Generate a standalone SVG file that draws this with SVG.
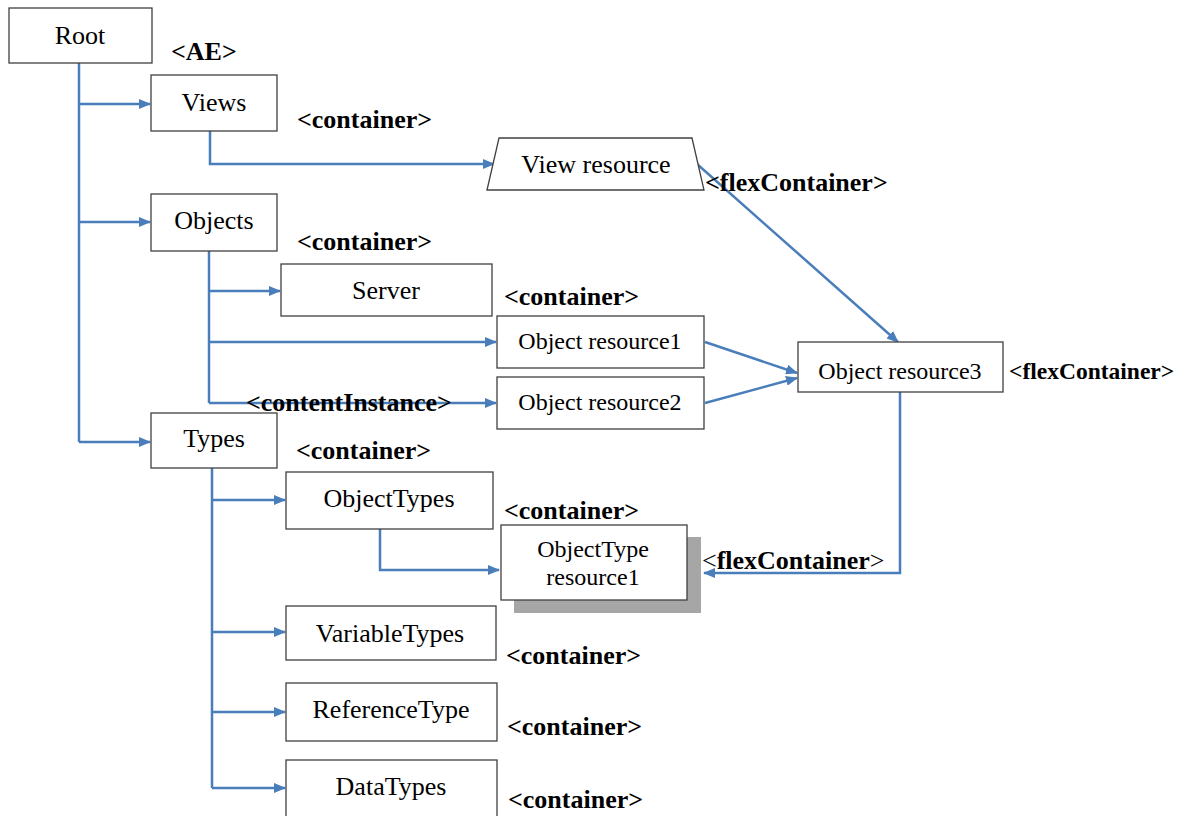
<svg xmlns="http://www.w3.org/2000/svg" width="1189" height="816" viewBox="0 0 1189 816">
<style>
.box{fill:#fff;stroke:#404040;stroke-width:1.3}
.t{font-family:"Liberation Serif","Times New Roman",serif;font-size:26px;fill:#000;text-anchor:middle}
.s{font-size:24px}
.lb{font-family:"Liberation Serif","Times New Roman",serif;font-size:26px;font-weight:bold;fill:#000}
.lb.sm{font-size:23.5px}
.c{fill:none;stroke:#4a7ebb;stroke-width:2.5}
</style>
<defs>
<marker id="ah" markerUnits="userSpaceOnUse" markerWidth="12" markerHeight="10" refX="11" refY="5" orient="auto">
<path d="M0,0 L12,5 L0,10 Z" fill="#4a7ebb"/>
</marker>
</defs>
<g id="connectors">
<path class="c" d="M79,63 V442"/>
<path class="c" d="M79,104 H150" marker-end="url(#ah)"/>
<path class="c" d="M79,222 H150" marker-end="url(#ah)"/>
<path class="c" d="M79,442 H150" marker-end="url(#ah)"/>
<path class="c" d="M210,131 V164 H494" marker-end="url(#ah)"/>
<path class="c" d="M209,251 V403"/>
<path class="c" d="M209,291 H280" marker-end="url(#ah)"/>
<path class="c" d="M209,342 H496" marker-end="url(#ah)"/>
<path class="c" d="M209,403 H496" marker-end="url(#ah)"/>
<path class="c" d="M697,164 L898,342" marker-end="url(#ah)"/>
<path class="c" d="M705,342 L797,373" marker-end="url(#ah)"/>
<path class="c" d="M705,403 L797,378" marker-end="url(#ah)"/>
<path class="c" d="M900,392 V573 H704" marker-end="url(#ah)"/>
<path class="c" d="M212,468 V788"/>
<path class="c" d="M212,500 H285" marker-end="url(#ah)"/>
<path class="c" d="M380,529 V570 H499" marker-end="url(#ah)"/>
<path class="c" d="M212,632 H285" marker-end="url(#ah)"/>
<path class="c" d="M212,712 H285" marker-end="url(#ah)"/>
<path class="c" d="M212,788 H285" marker-end="url(#ah)"/>
</g>
<g id="root"><rect class="box" x="9" y="8" width="143" height="55"/><text class="t" x="80" y="44">Root</text></g>
<text class="lb" x="171" y="60">&lt;AE&gt;</text>
<g id="views"><rect class="box" x="151" y="75" width="126" height="56"/><text class="t" x="214" y="111">Views</text></g>
<text class="lb" x="297" y="128">&lt;container&gt;</text>
<g id="viewresource"><path class="box" d="M499,138 H692 L704,190 H487 Z"/><text class="t" x="596" y="173">View resource</text></g>
<text class="lb" x="705" y="191">&lt;flexContainer&gt;</text>
<g id="objects"><rect class="box" x="151" y="194" width="126" height="57"/><text class="t" x="214" y="229">Objects</text></g>
<text class="lb" x="297" y="250">&lt;container&gt;</text>
<g id="server"><rect class="box" x="281" y="264" width="211" height="52"/><text class="t" x="386" y="299">Server</text></g>
<text class="lb" x="504" y="305">&lt;container&gt;</text>
<g id="objres1"><rect class="box" x="497" y="316" width="207" height="52"/><text class="t s" x="600" y="349">Object resource1</text></g>
<g id="objres2"><rect class="box" x="497" y="377" width="207" height="52"/><text class="t s" x="600" y="410">Object resource2</text></g>
<text class="lb" x="246" y="411">&lt;contentInstance&gt;</text>
<g id="objres3"><rect class="box" x="798" y="342" width="205" height="50"/><text class="t s" x="900" y="379">Object resource3</text></g>
<text class="lb sm" x="1009" y="379">&lt;flexContainer&gt;</text>
<g id="types"><rect class="box" x="151" y="413" width="126" height="55"/><text class="t" x="214" y="447">Types</text></g>
<text class="lb" x="296" y="459">&lt;container&gt;</text>
<g id="objecttypes"><rect class="box" x="286" y="472" width="207" height="57"/><text class="t" x="389" y="507">ObjectTypes</text></g>
<text class="lb" x="504" y="519">&lt;container&gt;</text>
<g id="objtyperes1"><rect x="514" y="537" width="187" height="76" fill="#a6a6a6"/><rect class="box" x="501" y="525" width="186" height="75"/><text class="t s" x="593" y="557">ObjectType</text><text class="t s" x="593" y="585">resource1</text></g>
<text class="lb" x="702" y="569"><tspan font-weight="normal">&lt;</tspan>flexContainer<tspan font-weight="normal">&gt;</tspan></text>
<g id="variabletypes"><rect class="box" x="286" y="606" width="210" height="54"/><text class="t" x="390" y="642">VariableTypes</text></g>
<text class="lb" x="506" y="664">&lt;container&gt;</text>
<g id="referencetype"><rect class="box" x="286" y="683" width="211" height="58"/><text class="t" x="391" y="718">ReferenceType</text></g>
<text class="lb" x="507" y="735">&lt;container&gt;</text>
<g id="datatypes"><rect class="box" x="286" y="760" width="211" height="70"/><text class="t" x="391" y="795">DataTypes</text></g>
<text class="lb" x="508" y="808">&lt;container&gt;</text>
</svg>
